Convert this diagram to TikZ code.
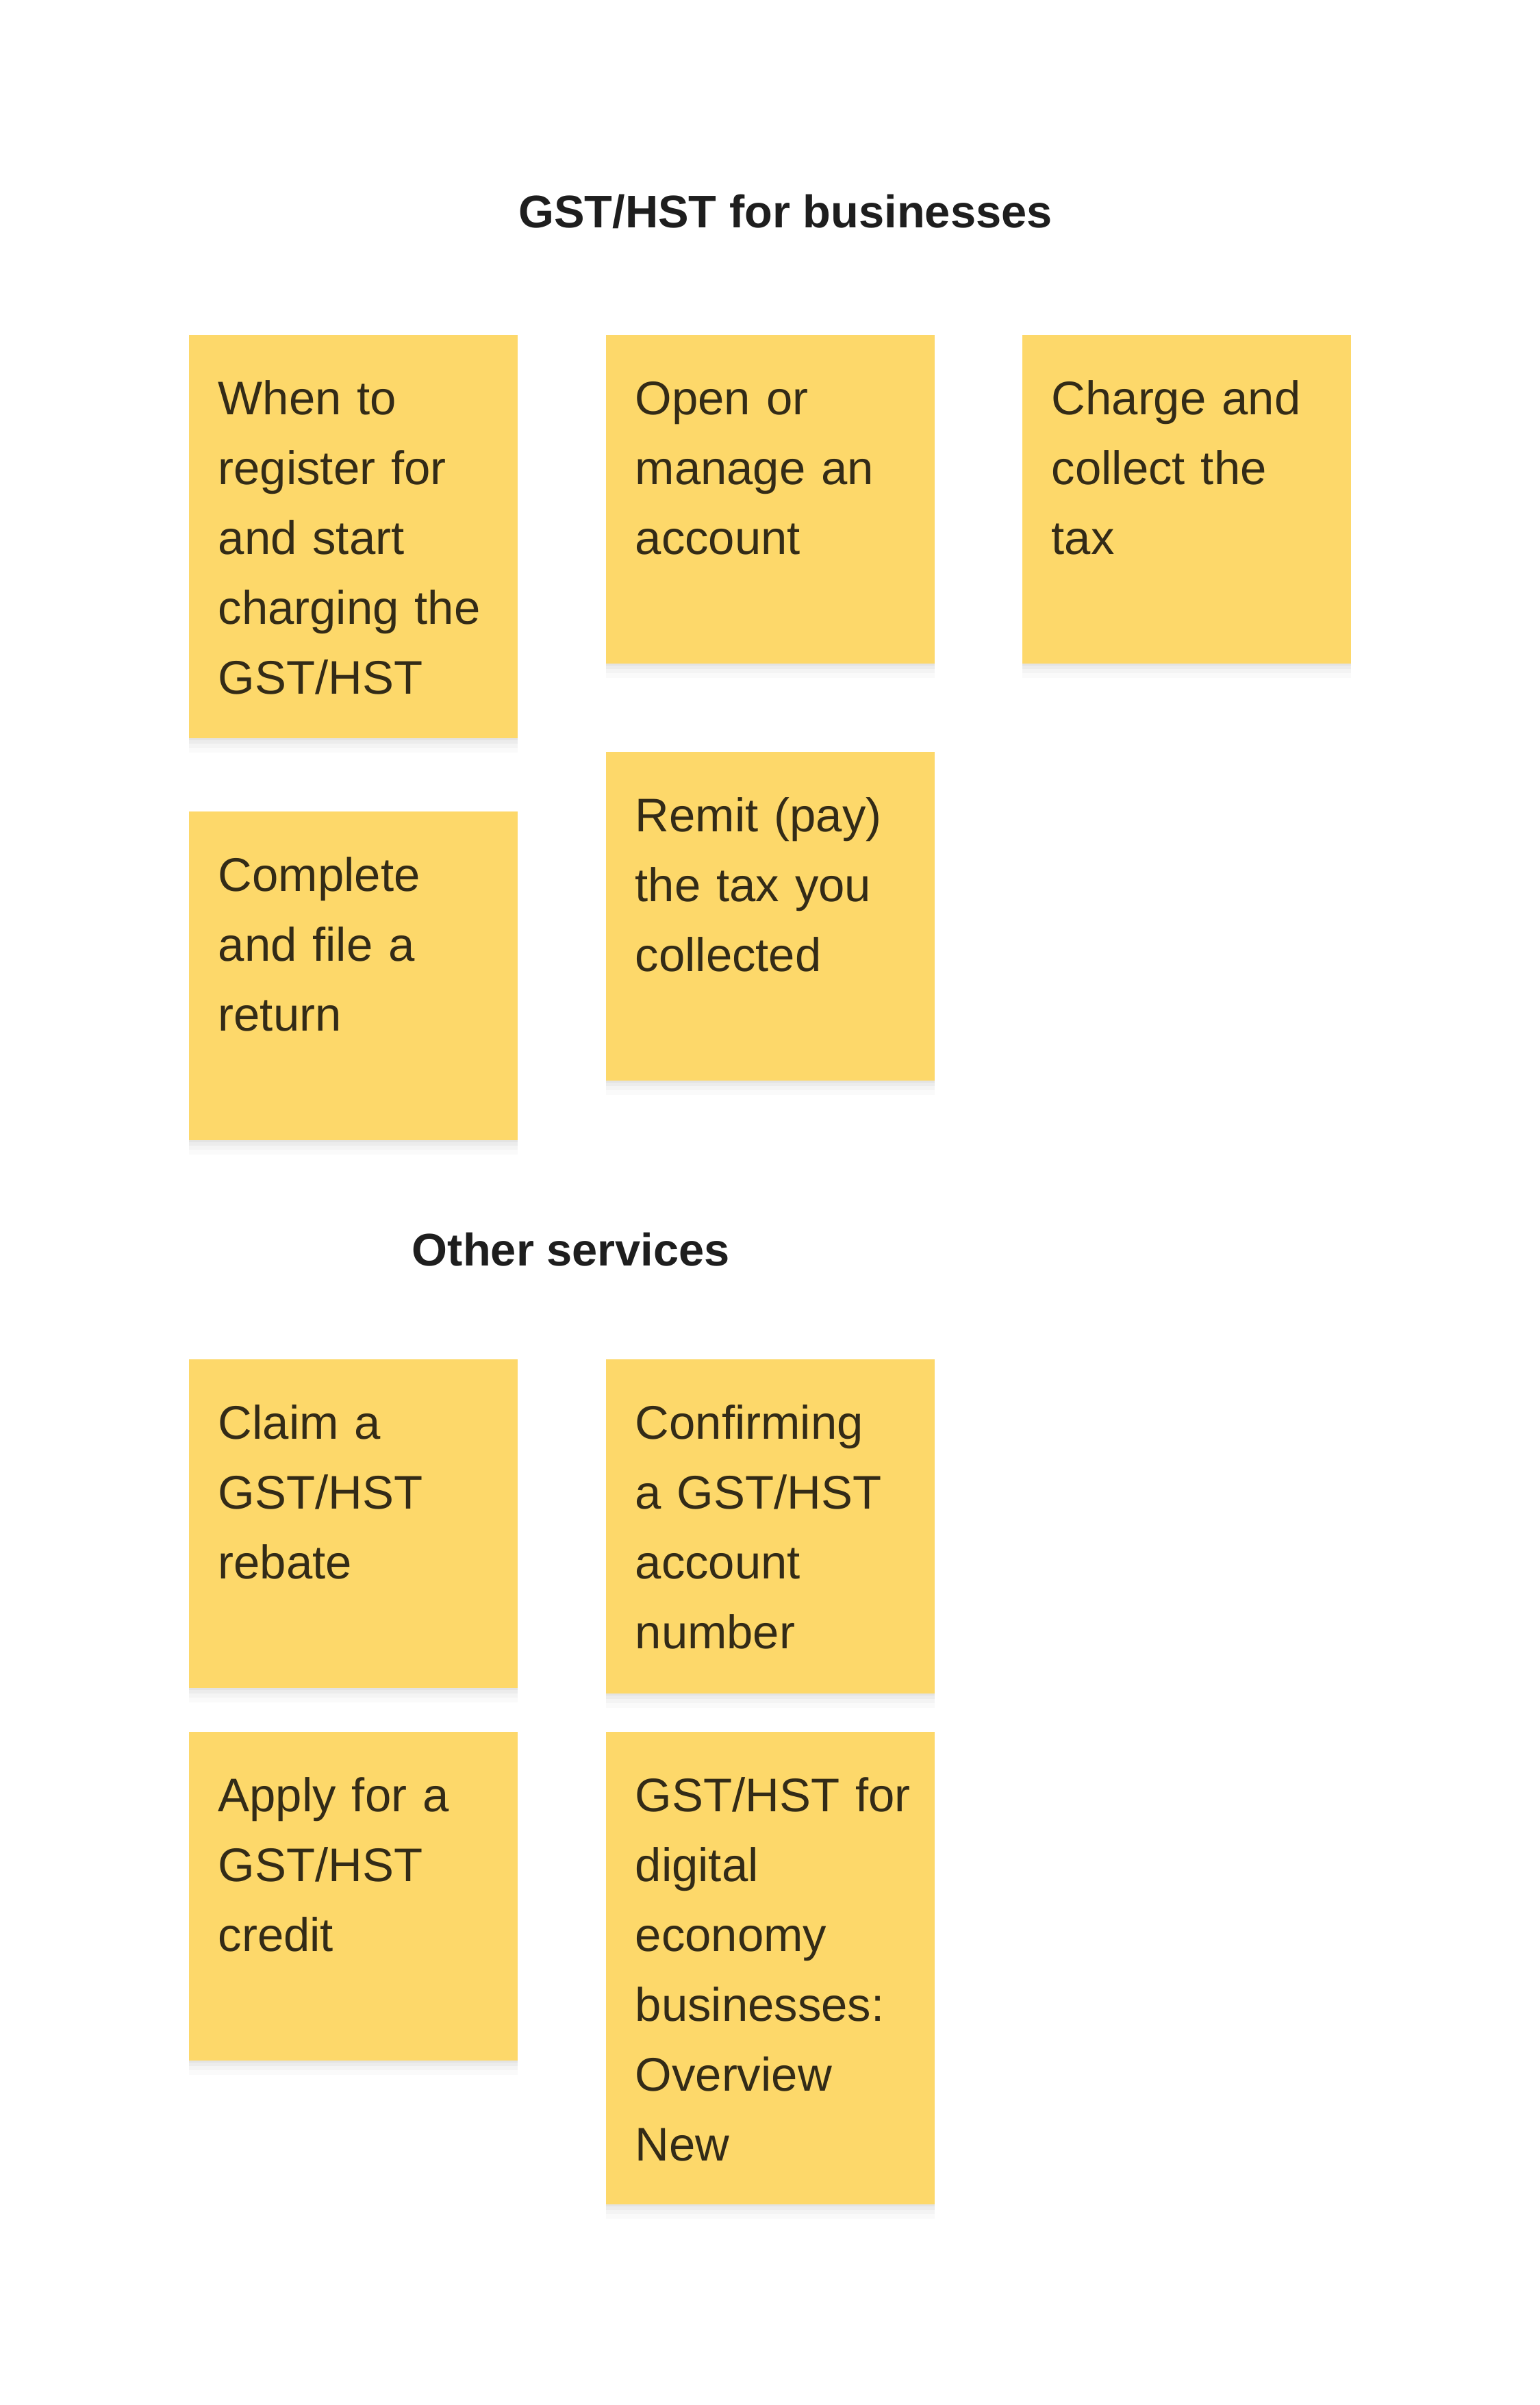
\documentclass[tikz,border=0pt]{standalone}
\usepackage{fontspec}
\setmainfont{Liberation Sans}
\usepackage{xcolor}
\usetikzlibrary{positioning, shadows}

\definecolor{notefill}{HTML}{FDD86A}
\definecolor{notetext}{HTML}{332B17}
\definecolor{headtext}{HTML}{1E1E1E}

\begin{document}
\begin{tikzpicture}[
        softshadow/.style={
            general shadow={fill=black, opacity=0.035, shadow yshift=-0.03cm},
            general shadow={fill=black, opacity=0.03, shadow yshift=-0.08cm},
            general shadow={fill=black, opacity=0.025, shadow yshift=-0.14cm},
            general shadow={fill=black, opacity=0.02, shadow yshift=-0.21cm}},
        note/.style={fill=notefill, text=notetext, anchor=north west, softshadow,
            minimum width=4.8cm, text width=3.94cm, align=left,
            inner xsep=0.43cm, inner ysep=0.4cm, text height=0.77cm, text depth=3.23cm,
            font=\fontsize{19.6}{29}\selectfont},
        heading/.style={anchor=base, text=headtext, font=\fontsize{19}{23}\selectfont\bfseries}
    ]
        \useasboundingbox[fill=white] (0,0) rectangle (22.48,-35.12);

        % GST/HST for businesses
        \node[heading] (headbiz) at (11.47,-3.32) {GST/HST for businesses};

        \node[note, text depth=4.32cm] (register) at (2.75,-4.88) {When to\\register for\\and start\\charging the\\GST/HST};
        \node[note] (account) at (8.84,-4.88) {Open or\\manage an\\account};
        \node[note] (charge) at (14.92,-4.88) {Charge and\\collect the\\tax};
        \node[note] (file) at (2.75,-11.84) {Complete\\and file a\\return};
        \node[note] (remit) at (8.84,-10.97) {Remit (pay)\\the tax you\\collected};

        % Other services
        \node[heading] (headother) at (8.34,-18.48) {Other services};

        \node[note] (rebate) at (2.75,-19.84) {Claim a\\GST/HST\\rebate};
        \node[note, text depth=3.31cm] (confirm) at (8.84,-19.84) {Confirming\\a GST/HST\\account\\number};
        \node[note] (credit) at (2.75,-25.28) {Apply for a\\GST/HST\\credit};
        \node[note, text depth=5.33cm] (digital) at (8.84,-25.28) {GST/HST~for\\digital\\economy\\businesses:\\Overview\\New};
    \end{tikzpicture}
\end{document}
